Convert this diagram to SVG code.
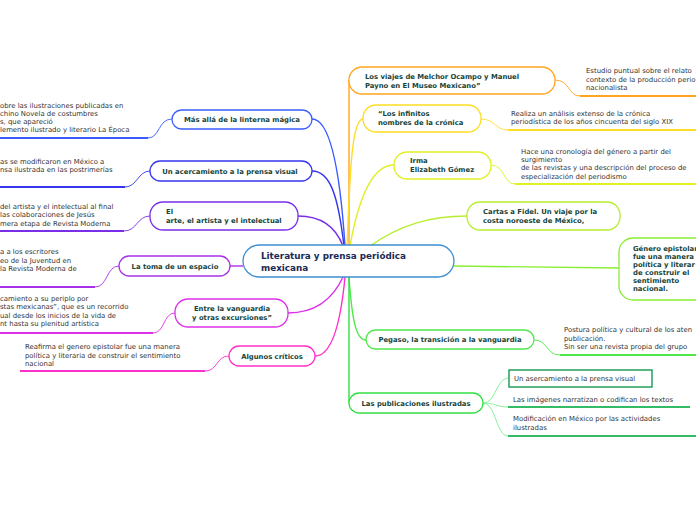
<svg xmlns="http://www.w3.org/2000/svg" width="696" height="520" viewBox="0 0 696 520">
<style>
.nb{fill:#fff;stroke-width:1.3}
.nt{font-family:"DejaVu Sans",Verdana,sans-serif;font-weight:bold;font-size:6.85px;fill:#15443a}
.ct{font-family:"DejaVu Sans",Verdana,sans-serif;font-size:6.9px;fill:#333}
.mt{font-family:"DejaVu Sans",Verdana,sans-serif;font-weight:bold;font-size:8.8px;fill:#1b2a55}
.c{fill:none;stroke-width:1.4}
.s{fill:none;stroke-width:0.9}
.u{fill:none;stroke-width:2}
</style>
<rect width="696" height="520" fill="#fff"/>
<g id="connectors">
<path class="c" stroke="#3a5cff" d="M345,246 C340,170 330,119 312,119"/>
<path class="c" stroke="#3636ee" d="M344,246 C338,195 330,171 312,171"/>
<path class="c" stroke="#7a2ee8" d="M343,246 C335,225 320,216 298,216"/>
<path class="c" stroke="#a632e8" d="M243,266 L230,266"/>
<path class="c" stroke="#dd30e8" d="M343,277 C330,305 310,313 288,313"/>
<path class="c" stroke="#ff30cc" d="M345,277 C340,330 330,356 315,356"/>
<path class="c" stroke="#ffa51f" d="M349,246 L349,80"/>
<path class="c" stroke="#ffdd22" d="M347,246 C350,170 352,119 363,119"/>
<path class="c" stroke="#e0f020" d="M350,246 C360,190 375,165 394,165"/>
<path class="c" stroke="#b8ee30" d="M370,246 C400,225 430,216 467,216"/>
<path class="c" stroke="#88ee33" d="M454,266 L619,268"/>
<path class="c" stroke="#4ee84a" d="M349,277 C352,320 356,340 366,340"/>
<path class="c" stroke="#33e044" d="M349,277 L349,403"/>
<path class="s" stroke="#3a5cff" d="M172,119 C158,119 160,138 148,138"/><path class="u" stroke="#3a5cff" d="M148,138 L0,138"/>
<path class="s" stroke="#3636ee" d="M150,171 C138,171 137,187 125,187"/><path class="u" stroke="#3636ee" d="M125,187 L0,187"/>
<path class="s" stroke="#7a2ee8" d="M150,216 C137,216 137,231 124,231"/><path class="u" stroke="#7a2ee8" d="M124,231 L0,231"/>
<path class="s" stroke="#a632e8" d="M119,266 C106,266 108,287 95,287"/><path class="u" stroke="#a632e8" d="M95,287 L0,287"/>
<path class="s" stroke="#dd30e8" d="M175,313 C163,313 165,333 153,333"/><path class="u" stroke="#dd30e8" d="M153,333 L0,333"/>
<path class="s" stroke="#ff30cc" d="M229,356 C216,356 218,371 205,371"/><path class="u" stroke="#ff30cc" d="M205,371 L20,371"/>
<path class="s" stroke="#ffa51f" d="M555,80 C570,80 568,96 580,96"/><path class="u" stroke="#ffa51f" d="M580,96 L696,96"/>
<path class="s" stroke="#ffdd22" d="M481,119 C495,119 495,130 508,130"/><path class="u" stroke="#ffdd22" d="M508,130 L696,130"/>
<path class="s" stroke="#e0f020" d="M491,165 C505,165 503,184 515,184"/><path class="u" stroke="#e0f020" d="M515,184 L696,184"/>
<path class="s" stroke="#4ee84a" d="M534,340 C548,340 546,355 560,355"/><path class="u" stroke="#4ee84a" d="M560,355 L696,355"/>
<path class="s" stroke="#7aee8e" d="M483,403 C496,403 496,378 509,378"/>
<path class="s" stroke="#7aee8e" d="M483,403 C496,403 496,407 508,407"/><path class="u" stroke="#33bb66" d="M508,407 L690,407"/>
<path class="s" stroke="#7aee8e" d="M483,403 C496,403 496,436 508,436"/><path class="u" stroke="#33bb66" d="M508,436 L696,436"/>
</g>
<g id="central">
<rect x="243" y="245" width="211" height="32" rx="16" fill="#fff" stroke="#3d8fd1" stroke-width="1.3"/>
<text class="mt" x="261" y="259">Literatura y prensa periódica</text>
<text class="mt" x="261" y="270.5">mexicana</text>
</g>
<g id="n-masalla">
<rect class="nb" stroke="#3a5cff" x="172" y="110" width="140" height="19" rx="9.5"/>
<text class="nt" x="242" y="122" text-anchor="middle">Más allá de la linterna mágica</text>
<text class="ct" x="0" y="108">obre las ilustraciones publicadas en</text>
<text class="ct" x="0" y="116">chino Novela de costumbres</text>
<text class="ct" x="0" y="124">s, que apareció</text>
<text class="ct" x="0" y="132">lemento ilustrado y literario La Época</text>
</g>
<g id="n-acercamiento">
<rect class="nb" stroke="#3636ee" x="150" y="161" width="162" height="20" rx="10"/>
<text class="nt" x="230" y="173.5" text-anchor="middle">Un acercamiento a la prensa visual</text>
<text class="ct" x="0" y="163.5">as se modificaron en México a</text>
<text class="ct" x="0" y="172">nsa ilustrada en las postrimerías</text>
</g>
<g id="n-arte">
<rect class="nb" stroke="#7a2ee8" x="150" y="202" width="148" height="28" rx="13"/>
<text class="nt" x="166" y="214">El</text>
<text class="nt" x="166" y="222.5">arte, el artista y el intelectual</text>
<text class="ct" x="0" y="209">del artista y el intelectual al final</text>
<text class="ct" x="0" y="217">las colaboraciones de Jesús</text>
<text class="ct" x="0" y="226">mera etapa de Revista Moderna</text>
</g>
<g id="n-toma">
<rect class="nb" stroke="#a632e8" x="119" y="256" width="111" height="20" rx="10"/>
<text class="nt" x="175" y="268.5" text-anchor="middle">La toma de un espacio</text>
<text class="ct" x="0" y="254">a a los escritores</text>
<text class="ct" x="0" y="263">eo de la Juventud en</text>
<text class="ct" x="0" y="271"> la Revista Moderna de</text>
</g>
<g id="n-entre">
<rect class="nb" stroke="#dd30e8" x="175" y="299" width="113" height="28" rx="13"/>
<text class="nt" x="232" y="311" text-anchor="middle">Entre la vanguardia</text>
<text class="nt" x="232" y="319.5" text-anchor="middle">y otras excursiones”</text>
<text class="ct" x="0" y="300.5">camiento a su periplo por</text>
<text class="ct" x="0" y="309">stas mexicanas”, que es un recorrido</text>
<text class="ct" x="0" y="317.5">ual desde los inicios de la vida de</text>
<text class="ct" x="0" y="326">nt hasta su plenitud artística</text>
</g>
<g id="n-criticos">
<rect class="nb" stroke="#ff30cc" x="229" y="346" width="86" height="20" rx="10"/>
<text class="nt" x="272" y="358.5" text-anchor="middle">Algunos críticos</text>
<text class="ct" x="25" y="349">Reafirma el genero epistolar fue una manera</text>
<text class="ct" x="25" y="357.5">política y literaria de construir el sentimiento</text>
<text class="ct" x="25" y="366">nacional</text>
</g>
<g id="n-viajes">
<rect class="nb" stroke="#ffa51f" x="349" y="67" width="206" height="27" rx="13"/>
<text class="nt" x="365" y="79">Los viajes de Melchor Ocampo y Manuel</text>
<text class="nt" x="365" y="87.5">Payno en El Museo Mexicano”</text>
<text class="ct" x="586" y="73">Estudio puntual sobre el relato</text>
<text class="ct" x="586" y="82">contexto de la producción perio</text>
<text class="ct" x="586" y="90">nacionalista</text>
</g>
<g id="n-infinitos">
<rect class="nb" stroke="#ffdd22" x="363" y="105" width="118" height="27" rx="13"/>
<text class="nt" x="378" y="116">“Los infinitos</text>
<text class="nt" x="378" y="125">nombres de la crónica</text>
<text class="ct" x="511" y="116">Realiza un análisis extenso de la crónica</text>
<text class="ct" x="511" y="124">periodística de los años cincuenta del siglo XIX</text>
</g>
<g id="n-irma">
<rect class="nb" stroke="#e0f020" x="394" y="152" width="97" height="27" rx="13"/>
<text class="nt" x="410" y="163">Irma</text>
<text class="nt" x="410" y="171.5">Elizabeth Gómez</text>
<text class="ct" x="521" y="154">Hace una cronología del género a partir del</text>
<text class="ct" x="521" y="162">surgimiento</text>
<text class="ct" x="521" y="170">de las revistas y una descripción del proceso de</text>
<text class="ct" x="521" y="178.5">especialización del periodismo</text>
</g>
<g id="n-cartas">
<rect class="nb" stroke="#b8ee30" x="467" y="202" width="153" height="28" rx="13"/>
<text class="nt" x="483" y="214">Cartas a Fidel. Un viaje por la</text>
<text class="nt" x="483" y="222.5">costa noroeste de México,</text>
</g>
<g id="n-genero">
<rect class="nb" stroke="#88ee33" x="619" y="238" width="110" height="62" rx="14"/>
<text class="nt" x="633" y="251">Género epistolar</text>
<text class="nt" x="633" y="259">fue una manera</text>
<text class="nt" x="633" y="267">política y literar</text>
<text class="nt" x="633" y="275">de construir el</text>
<text class="nt" x="633" y="283">sentimiento</text>
<text class="nt" x="633" y="291">nacional.</text>
</g>
<g id="n-pegaso">
<rect class="nb" stroke="#4ee84a" x="366" y="330" width="168" height="19" rx="9.5"/>
<text class="nt" x="450" y="342" text-anchor="middle">Pegaso, la transición a la vanguardia</text>
<text class="ct" x="564" y="332">Postura política y cultural de los aten</text>
<text class="ct" x="564" y="340.5">publicación.</text>
<text class="ct" x="564" y="349">Sin ser una revista propia del grupo</text>
</g>
<g id="n-publicaciones">
<rect class="nb" stroke="#33e044" x="349" y="393" width="134" height="20" rx="10"/>
<text class="nt" x="416" y="405.5" text-anchor="middle">Las publicaciones ilustradas</text>
<rect x="509" y="370" width="143" height="17" fill="#fff" stroke="#22a05a" stroke-width="1.5"/>
<text class="ct" x="514" y="381">Un asercamiento a la prensa visual</text>
<text class="ct" x="513" y="401.5">Las imágenes narratizan o codifican los textos</text>
<text class="ct" x="513" y="421">Modificación en México por las actividades</text>
<text class="ct" x="513" y="430">ilustradas</text>
</g>
</svg>
